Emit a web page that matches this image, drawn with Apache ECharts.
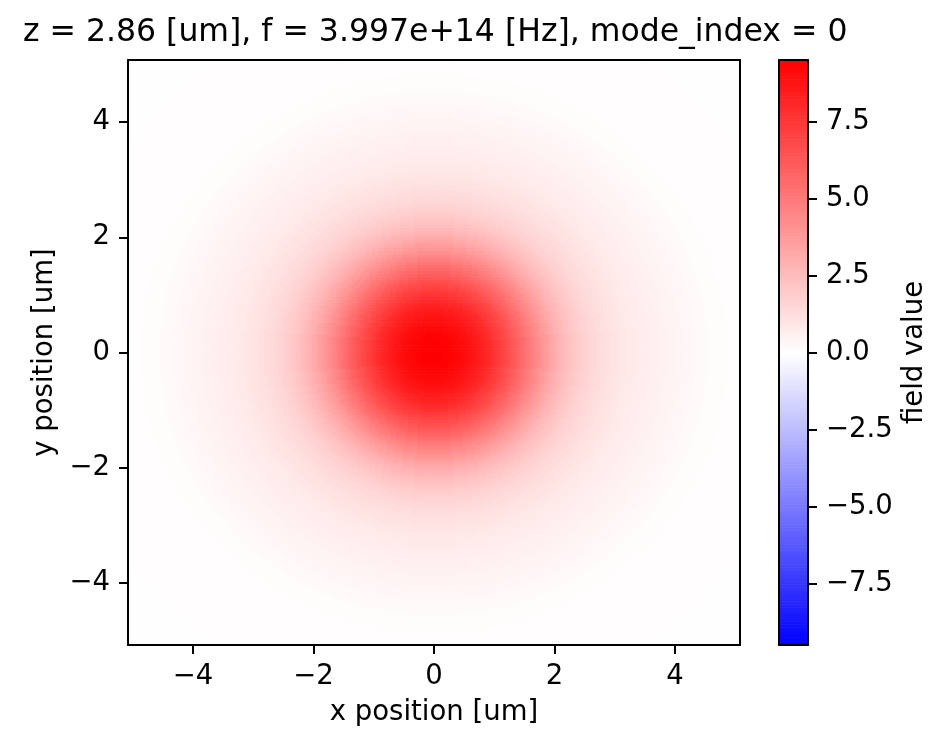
<!DOCTYPE html>
<html>
<head>
<meta charset="utf-8">
<script src="https://cdn.jsdelivr.net/npm/echarts@6/dist/echarts.min.js"></script>
<style>
  html, body { margin: 0; padding: 0; background: #fff; }
  #main { width: 949px; height: 748px; }
</style>
</head>
<body>
<div id="main"></div>
<script>
// 径向场分布 (r 每 0.05 um 一个采样, 从图上读出)
var radiusStep = 0.05;
var fieldProfile = [
  9.50, 9.50, 9.48, 9.46, 9.43, 9.39, 9.34, 9.28, 9.21, 9.13,
  9.04, 8.94, 8.83, 8.71, 8.58, 8.44, 8.29, 8.13, 7.96, 7.78,
  7.59, 7.39, 7.19, 6.98, 6.76, 6.54, 6.31, 6.08, 5.84, 5.60,
  5.36, 5.12, 4.88, 4.64, 4.41, 4.18, 3.96, 3.74, 3.53, 3.33,
  3.13, 2.95, 2.77, 2.61, 2.45, 2.31, 2.17, 2.05, 1.93, 1.82,
  1.72, 1.63, 1.54, 1.46, 1.39, 1.32, 1.26, 1.20, 1.14, 1.09,
  1.04, 0.99, 0.95, 0.91, 0.87, 0.83, 0.80, 0.76, 0.73, 0.70,
  0.67, 0.64, 0.61, 0.58, 0.56, 0.53, 0.51, 0.48, 0.46, 0.43,
  0.41, 0.38, 0.36, 0.33, 0.31, 0.28, 0.26, 0.23, 0.21, 0.19,
  0.17, 0.15, 0.13, 0.12, 0.11, 0.105, 0.10, 0.095, 0.09, 0.087,
  0.085, 0.082, 0.08, 0.079, 0.078, 0.076, 0.075, 0.073, 0.072, 0.071,
  0.07, 0.069, 0.068, 0.067, 0.066, 0.065, 0.064, 0.063, 0.062, 0.061,
  0.06, 0.059, 0.058, 0.057, 0.056, 0.055, 0.054, 0.053, 0.052, 0.051,
  0.05, 0.049, 0.048, 0.0475, 0.047, 0.0465, 0.046, 0.0455, 0.045, 0.0445,
  0.044, 0.0435, 0.043, 0.0425, 0.042
];

// 坐标轴刻度
var posTicks = [-4, -2, 0, 2, 4];
var cbarTicks = [-7.5, -5, -2.5, 0, 2.5, 5, 7.5];
var fieldMin = -9.5;
var fieldMax = 9.5;
var axisExtent = 5.08;

// 网格单元中心
var cellStep = 0.05;
var cellCenters = [];
for (var i = -102; i <= 102; i++) {
  cellCenters.push(+(i * cellStep).toFixed(3));
}

var cells = [];
cellCenters.forEach(function (x) {
  cellCenters.forEach(function (y) {
    var r = Math.sqrt(x * x + y * y);
    var idx = Math.min(Math.round(r / radiusStep), fieldProfile.length - 1);
    cells.push([x, y, fieldProfile[idx]]);
  });
});

// 色条的色阶
var cbarStep = 0.05;
var cbarLevels = [];
for (var v = fieldMin; v <= fieldMax + 1e-9; v += cbarStep) {
  cbarLevels.push([0.5, +v.toFixed(3), +v.toFixed(3)]);
}

var fontFamily = 'DejaVu Sans';
var tickFont = 27.5;

function fmtTick(v) {
  return String(v).replace('-', '\u2212');
}
function fmtCbar(v) {
  return v.toFixed(1).replace('-', '\u2212');
}

function cellRenderer(halfW, halfH) {
  return function (params, api) {
    var p0 = api.coord([api.value(0) - halfW, api.value(1) + halfH]);
    var p1 = api.coord([api.value(0) + halfW, api.value(1) - halfH]);
    return {
      type: 'rect',
      shape: { x: p0[0], y: p0[1], width: p1[0] - p0[0] + 0.6, height: p1[1] - p0[1] + 0.6 },
      style: { fill: api.visual('color') }
    };
  };
}

var lineStyle = { color: '#000', width: 2 };

function frameAxis(gridIndex, position, min, max) {
  return {
    type: 'value', gridIndex: gridIndex, position: position, min: min, max: max,
    z: 10,
    axisLine: { show: true, onZero: false, lineStyle: lineStyle },
    axisTick: { show: false }, axisLabel: { show: false }, splitLine: { show: false }
  };
}

var myChart = echarts.init(document.getElementById('main'), null, { renderer: 'canvas' });

var option = {
  backgroundColor: '#fff',
  animation: false,
  textStyle: { fontFamily: fontFamily, color: '#000' },
  graphic: [{
    type: 'text',
    left: 434 - 411, top: 17,
    style: {
      text: 'z = 2.86 [um], f = 3.997e+14 [Hz], mode_index = 0',
      font: '31.5px "DejaVu Sans"', fill: '#000'
    }
  }],
  grid: [
    { left: 128, top: 60, width: 612, height: 585 },
    { left: 779, top: 60, width: 29, height: 585 }
  ],
  visualMap: {
    show: false, type: 'continuous', dimension: 2, seriesIndex: [0, 1],
    min: fieldMin, max: fieldMax,
    inRange: { color: ['#0000ff', '#ffffff', '#ff0000'] }
  },
  xAxis: [
    {
      type: 'value', gridIndex: 0, position: 'bottom', min: -axisExtent, max: axisExtent, z: 10,
      name: 'x position [um]', nameLocation: 'middle', nameGap: 54,
      nameTextStyle: { fontSize: tickFont, color: '#000', fontFamily: fontFamily },
      axisLine: { show: true, onZero: false, lineStyle: lineStyle },
      axisTick: { show: true, length: 9, lineStyle: lineStyle, customValues: posTicks },
      axisLabel: { show: true, margin: 18, fontSize: tickFont, color: '#000', fontFamily: fontFamily,
        customValues: posTicks, formatter: fmtTick },
      splitLine: { show: false }
    },
    frameAxis(0, 'top', -axisExtent, axisExtent),
    frameAxis(1, 'bottom', 0, 1),
    frameAxis(1, 'top', 0, 1)
  ],
  yAxis: [
    {
      type: 'value', gridIndex: 0, position: 'left', min: -axisExtent, max: axisExtent, z: 10,
      name: 'y position [um]', nameLocation: 'middle', nameGap: 66, nameRotate: 90,
      nameTextStyle: { fontSize: tickFont, color: '#000', fontFamily: fontFamily },
      axisLine: { show: true, onZero: false, lineStyle: lineStyle },
      axisTick: { show: true, length: 9, lineStyle: lineStyle, customValues: posTicks },
      axisLabel: { show: true, margin: 18, fontSize: tickFont, color: '#000', fontFamily: fontFamily,
        customValues: posTicks, formatter: fmtTick },
      splitLine: { show: false }
    },
    frameAxis(0, 'right', -axisExtent, axisExtent),
    frameAxis(1, 'left', fieldMin, fieldMax),
    {
      type: 'value', gridIndex: 1, position: 'right', min: fieldMin, max: fieldMax, z: 10,
      name: 'field value', nameLocation: 'middle', nameGap: 93, nameRotate: 90,
      nameTextStyle: { fontSize: tickFont, color: '#000', fontFamily: fontFamily },
      axisLine: { show: true, onZero: false, lineStyle: lineStyle },
      axisTick: { show: true, length: 9, lineStyle: lineStyle, customValues: cbarTicks },
      axisLabel: { show: true, margin: 18, fontSize: tickFont, color: '#000', fontFamily: fontFamily,
        customValues: cbarTicks, formatter: fmtCbar },
      splitLine: { show: false }
    }
  ],
  series: [
    {
      type: 'custom', xAxisIndex: 0, yAxisIndex: 0,
      renderItem: cellRenderer(cellStep / 2, cellStep / 2),
      clip: true, progressive: 0, silent: true,
      data: cells
    },
    {
      type: 'custom', xAxisIndex: 2, yAxisIndex: 2,
      renderItem: cellRenderer(0.5, cbarStep / 2),
      clip: true, progressive: 0, silent: true,
      data: cbarLevels
    }
  ]
};

myChart.setOption(option);
</script>
</body>
</html>
